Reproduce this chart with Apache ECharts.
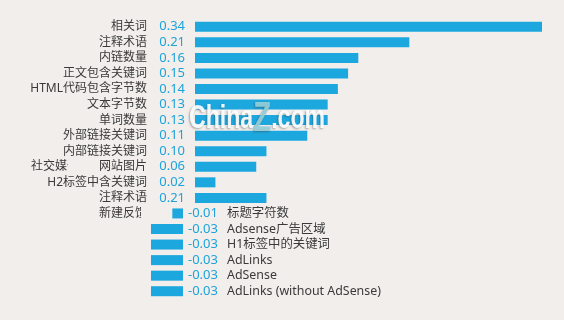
<!DOCTYPE html>
<html>
<head>
<meta charset="utf-8">
<script src="https://cdn.jsdelivr.net/npm/echarts@6/dist/echarts.min.js"></script>
<style>
html,body{margin:0;padding:0;background:#f1eeec;}
#c{width:564px;height:320px;}
</style>
</head>
<body>
<div id="c"></div>
<script>
// Row names shown on the left (positive rows) and on the right (negative rows)
const categories = ['相关词','注释术语','内链数量','正文包含关键词','HTML代码包含字节数','文本字节数','单词数量','外部链接关键词','内部链接关键词','网站图片','H2标签中含关键词','注释术语','标题字符数','Adsense广告区域','H1标签中的关键词','AdLinks','AdSense','AdLinks (without AdSense)'];
// Bar lengths as drawn
const barValues = [0.34,0.21,0.16,0.15,0.14,0.13,0.13,0.11,0.07,0.06,0.02,0.07,-0.01,-0.03,-0.03,-0.03,-0.03,-0.03];
// Value labels as printed
const valueLabels = ['0.34','0.21','0.16','0.15','0.14','0.13','0.13','0.11','0.10','0.06','0.02','0.21','-0.01','-0.03','-0.03','-0.03','-0.03','-0.03'];
// Stray (clipped) labels at the left
const strayLabels = {9: '社交媒体', 12: '新建反馈'};

const BLUE = '#1da7df';
const LABEL_BLUE = '#1ea3db';
const TEXT = '#3a3a3a';
const BG = '#f1eeec';
const FONT = "'Noto Sans', 'Noto Sans CJK SC', sans-serif";

const posData = barValues.map((v, i) => v >= 0 ? {
  value: v,
  label: {show: true, position: 'left', distance: 10, formatter: valueLabels[i], color: LABEL_BLUE, fontSize: 13, fontFamily: FONT}
} : '-');
const negData = barValues.map((v, i) => v < 0 ? {
  value: v,
  label: {
    show: true, position: 'right', distance: 5,
    formatter: '{v|' + valueLabels[i] + '}{c|' + categories[i] + '}',
    rich: {
      v: {color: LABEL_BLUE, fontSize: 13, fontFamily: FONT, width: 39},
      c: {color: TEXT, fontSize: 12.4, fontFamily: FONT}
    }
  }
} : '-');

const wmShadow = {textShadowColor: 'rgba(60,60,60,0.45)', textShadowBlur: 2, textShadowOffsetX: -1, textShadowOffsetY: 1};

const chart = echarts.init(document.getElementById('c'));
chart.setOption({
  backgroundColor: BG,
  animation: false,
  grid: [
    {left: 195, right: 22, top: 19, bottom: 21},
    {left: 151, right: 381, top: 19, bottom: 21}
  ],
  xAxis: [
    {gridIndex: 0, type: 'value', min: 0, max: 0.34, show: false},
    {gridIndex: 1, type: 'value', min: -0.03, max: 0, show: false}
  ],
  yAxis: [
    {
      gridIndex: 0, type: 'category', inverse: true, data: categories,
      axisLine: {show: false}, axisTick: {show: false}, splitLine: {show: false},
      axisLabel: {
        interval: 0, hideOverlap: false,
        margin: 48, color: TEXT, fontSize: 12, fontFamily: FONT,
        formatter: function (val, i) {
          if (i === 9) return '{s|' + strayLabels[9] + '}{n|' + val + '}';
          if (i === 12) return '{n|' + strayLabels[12] + '}';
          return barValues[i] >= 0 ? '{n|' + val + '}' : '';
        },
        rich: {
          s: {width: 68, color: TEXT, fontSize: 12, fontFamily: FONT, align: 'left'},
          n: {color: TEXT, fontSize: 12, fontFamily: FONT}
        }
      }
    },
    {gridIndex: 1, type: 'category', inverse: true, data: categories, show: false}
  ],
  series: [
    {type: 'bar', xAxisIndex: 0, yAxisIndex: 0, data: posData, barWidth: 10, itemStyle: {color: BLUE}, clip: false},
    {type: 'bar', xAxisIndex: 1, yAxisIndex: 1, data: negData, barWidth: 10, itemStyle: {color: BLUE}, clip: false}
  ],
  graphic: [
    {type: 'rect', z: 100, shape: {x: 68, y: 158, width: 13, height: 17}, style: {fill: BG}},
    {type: 'rect', z: 100, shape: {x: 141, y: 205, width: 8, height: 17}, style: {fill: BG}},
    {
      type: 'group', x: 189, y: 119, scaleX: 0.7, z: 50,
      children: [{
        type: 'text', x: 0, y: 0, z: 50,
        style: {
          text: '{a|China}{z|Z}{a|.com}',
          verticalAlign: 'middle', align: 'left',
          rich: {
            a: Object.assign({fontFamily: "'Liberation Sans'", fontWeight: 'bold', fontSize: 33, fill: 'rgba(255,255,255,0.92)'}, wmShadow),
            z: Object.assign({fontFamily: "'Liberation Sans'", fontWeight: 'bold', fontSize: 42, fill: 'rgba(150,208,220,0.9)'}, wmShadow)
          }
        }
      }]
    }
  ]
});
</script>
</body>
</html>
